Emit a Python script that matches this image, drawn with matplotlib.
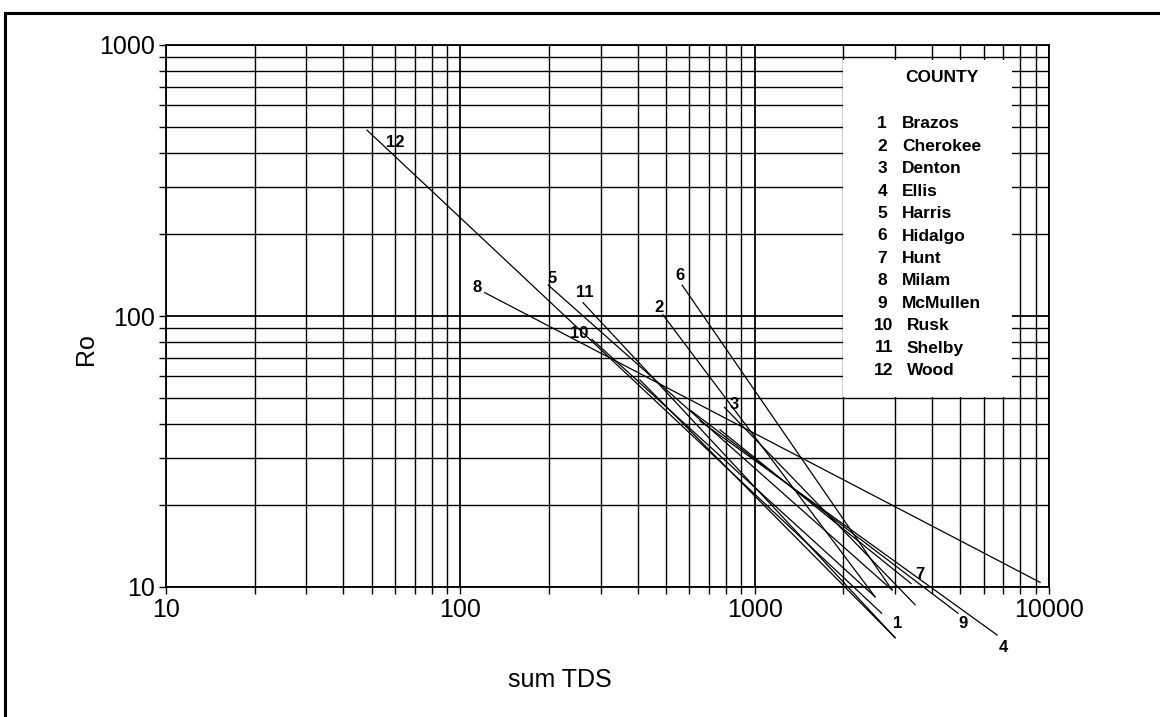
import matplotlib
matplotlib.use("Agg")
import matplotlib.pyplot as plt
from matplotlib.patches import Rectangle
from matplotlib.lines import Line2D
from matplotlib.ticker import LogLocator, NullFormatter, FixedLocator, FixedFormatter

plt.rcParams["font.family"] = ["Liberation Sans", "DejaVu Sans"]

counties = ["Brazos", "Cherokee", "Denton", "Ellis", "Harris", "Hidalgo",
            "Hunt", "Milam", "McMullen", "Rusk", "Shelby", "Wood"]
# end points of each fitted line: (sum TDS, Ro) at the start and at the end
tds_start = [408, 488, 790, 652, 199, 567, 763, 121, 603, 280, 261, 48.2]
ro_start = [58, 101, 46, 41, 130, 130, 38, 122, 45, 82, 112, 485]
tds_end = [3000, 2565, 3508, 6665, 2930, 2930, 3400, 9330, 4910, 2565, 3000, 2700]
ro_end = [6.5, 9.2, 8.6, 6.65, 9.75, 9.75, 10.3, 10.4, 8.0, 9.2, 6.5, 8.0]
# which end of the line carries the county number
label_at_start = [False, True, True, False, True, True, False, True, False, True, True, True]
# offset of each number from its line end, in pixels (right, up)
label_dx = [3, -4, 10, 6, 4, -2, 9, -8, 5, -13, 2, 28]
label_dy = [14, 7, 3, -12, 7, 10, 9, 5, -10, 6, 10, -12]

tick_values = [10, 100, 1000, 10000]

fig = plt.figure(figsize=(11.6, 7.17), dpi=100)
ax = fig.add_axes([166 / 1160, 1 - 587 / 717, 883 / 1160, 542 / 717])
ax.set_xscale("log")
ax.set_yscale("log")
ax.set_xlim(10, 10000)
ax.set_ylim(10, 1000)

ax.xaxis.set_major_locator(FixedLocator(tick_values))
ax.xaxis.set_major_formatter(FixedFormatter([str(v) for v in tick_values]))
ax.yaxis.set_major_locator(FixedLocator(tick_values[:3]))
ax.yaxis.set_major_formatter(FixedFormatter([str(v) for v in tick_values[:3]]))
for axis in (ax.xaxis, ax.yaxis):
    axis.set_minor_locator(LogLocator(base=10, subs=range(2, 10)))
    axis.set_minor_formatter(NullFormatter())
ax.tick_params(which="both", direction="out", length=5, width=1.0, color="black",
               labelsize=18, pad=3, top=False, right=False)
ax.grid(True, which="major", color="black", linewidth=1.3)
ax.grid(True, which="minor", color="black", linewidth=1.0)
ax.set_axisbelow(True)
for s in ax.spines.values():
    s.set_linewidth(1.3)

# blank panel holding the county key
ax.add_patch(Rectangle((0.767, 0.3506), 0.191, 0.622, transform=ax.transAxes,
                       facecolor="white", edgecolor="none", zorder=2))

for i in range(len(counties)):
    ax.plot([tds_start[i], tds_end[i]], [ro_start[i], ro_end[i]], color="black",
            linewidth=0.9, clip_on=False, zorder=3)
    if label_at_start[i]:
        anchor = (tds_start[i], ro_start[i])
    else:
        anchor = (tds_end[i], ro_end[i])
    ax.annotate(str(i + 1), anchor, xytext=(label_dx[i] * 0.72, label_dy[i] * 0.72),
                textcoords="offset points", ha="center", va="center",
                fontsize=12, fontweight="bold", annotation_clip=False, zorder=4)

# county key
def frac(px, py):
    return (px - 166) / 883, (587 - py) / 542

ax.text(*frac(942, 78), "COUNTY", transform=ax.transAxes, ha="center", va="center",
        fontsize=12.5, fontweight="bold", zorder=4)
for i, name in enumerate(counties):
    py = 124 + 22.4 * i
    num_right, name_left = (887, 902) if i < 9 else (893, 907)
    ax.text(*frac(num_right, py), str(i + 1), transform=ax.transAxes, ha="right",
            va="center", fontsize=12.5, fontweight="bold", zorder=4)
    ax.text(*frac(name_left, py), name, transform=ax.transAxes, ha="left",
            va="center", fontsize=12.5, fontweight="bold", zorder=4)

ax.set_xlabel("sum TDS", fontsize=18)
ax.xaxis.set_label_coords((560 - 166) / 883, (587 - 668) / 542)
ax.set_ylabel("Ro", fontsize=18)
ax.yaxis.set_label_coords((98 - 166) / 883, (587 - 349) / 542)

# page frame
fig.add_artist(Line2D([5 / 1160, 1], [1 - 13 / 717, 1 - 13 / 717], color="black", linewidth=2.2))
fig.add_artist(Line2D([5 / 1160, 5 / 1160], [0, 1 - 13 / 717], color="black", linewidth=2.2))

fig.savefig("out.png", dpi=100)
